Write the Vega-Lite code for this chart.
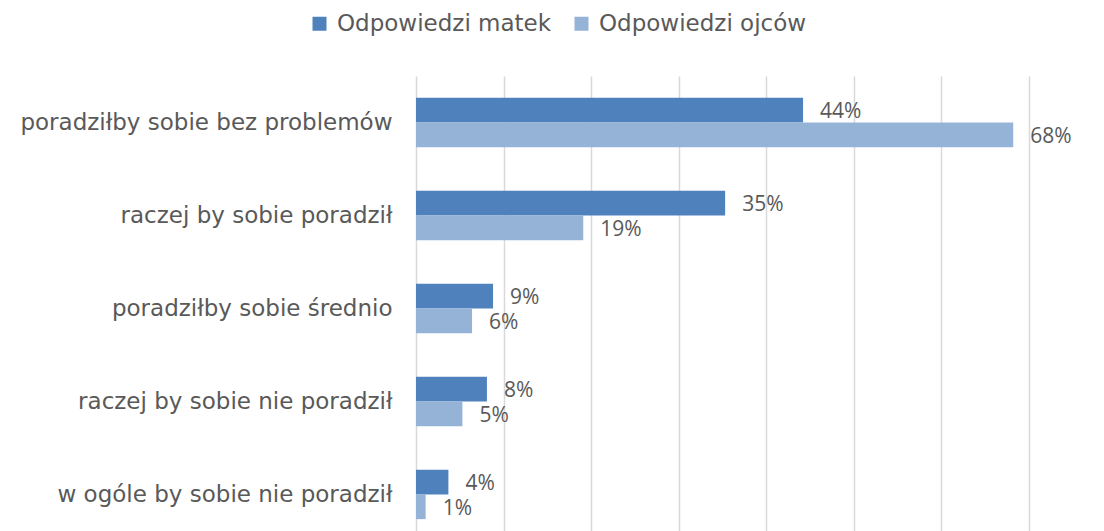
{
  "$schema": "https://vega.github.io/schema/vega-lite/v6.json",
  "autosize": "none",
  "width": 613,
  "height": 465,
  "padding": {"left": 416, "top": 76, "right": 75, "bottom": 0},
  "background": "white",
  "config": {
    "view": {"stroke": null},
    "font": "DejaVu Sans"
  },
  "data": {
    "values": [
      {"kategoria": "poradziłby sobie bez problemów", "grupa": "Odpowiedzi matek", "wartosc": 0.442},
      {"kategoria": "poradziłby sobie bez problemów", "grupa": "Odpowiedzi ojców", "wartosc": 0.682},
      {"kategoria": "raczej by sobie poradził", "grupa": "Odpowiedzi matek", "wartosc": 0.353},
      {"kategoria": "raczej by sobie poradził", "grupa": "Odpowiedzi ojców", "wartosc": 0.191},
      {"kategoria": "poradziłby sobie średnio", "grupa": "Odpowiedzi matek", "wartosc": 0.088},
      {"kategoria": "poradziłby sobie średnio", "grupa": "Odpowiedzi ojców", "wartosc": 0.064},
      {"kategoria": "raczej by sobie nie poradził", "grupa": "Odpowiedzi matek", "wartosc": 0.081},
      {"kategoria": "raczej by sobie nie poradził", "grupa": "Odpowiedzi ojców", "wartosc": 0.053},
      {"kategoria": "w ogóle by sobie nie poradził", "grupa": "Odpowiedzi matek", "wartosc": 0.037},
      {"kategoria": "w ogóle by sobie nie poradził", "grupa": "Odpowiedzi ojców", "wartosc": 0.011}
    ]
  },
  "encoding": {
    "y": {
      "field": "kategoria",
      "type": "nominal",
      "sort": ["poradziłby sobie bez problemów", "raczej by sobie poradził", "poradziłby sobie średnio", "raczej by sobie nie poradził", "w ogóle by sobie nie poradził"],
      "scale": {"paddingInner": 0.47, "paddingOuter": 0.235},
      "axis": {
        "title": null,
        "domain": false,
        "ticks": false,
        "labelPadding": 24,
        "labelFontSize": 23,
        "labelColor": "#595959",
        "labelFont": "DejaVu Sans",
        "labelLimit": 420
      }
    },
    "x": {
      "field": "wartosc",
      "type": "quantitative",
      "scale": {"domain": [0, 0.7], "nice": false},
      "axis": {
        "title": null,
        "labels": false,
        "ticks": false,
        "domain": false,
        "values": [0, 0.1, 0.2, 0.3, 0.4, 0.5, 0.6, 0.7],
        "gridColor": "#d9d9d9",
        "gridWidth": 1.5
      }
    },
    "yOffset": {
      "field": "grupa",
      "type": "nominal",
      "sort": ["Odpowiedzi matek", "Odpowiedzi ojców"],
      "scale": {"paddingInner": 0, "paddingOuter": 0}
    }
  },
  "layer": [
    {
      "mark": {"type": "bar"},
      "encoding": {
        "color": {
          "field": "grupa",
          "type": "nominal",
          "sort": ["Odpowiedzi matek", "Odpowiedzi ojców"],
          "scale": {"domain": ["Odpowiedzi matek", "Odpowiedzi ojców"], "range": ["#4F81BD", "#95B3D7"]},
          "legend": {
            "title": null,
            "orient": "none",
            "direction": "horizontal",
            "legendX": -108,
            "legendY": -64,
            "symbolType": "square",
            "symbolSize": 196,
            "symbolStrokeWidth": 0,
            "labelFontSize": 23,
            "labelColor": "#595959",
            "labelFont": "DejaVu Sans",
            "labelOffset": 6,
            "columnPadding": 18,
            "labelLimit": 400
          }
        }
      }
    },
    {
      "mark": {"type": "text", "align": "left", "baseline": "middle", "dx": 17, "dy": 2, "fontSize": 21, "color": "#595959", "font": "Open Sans"},
      "encoding": {
        "text": {"field": "wartosc", "type": "quantitative", "format": ".0%"}
      }
    }
  ]
}
